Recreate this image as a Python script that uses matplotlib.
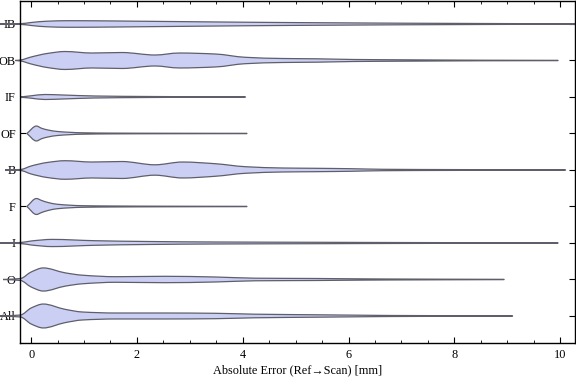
import numpy as np
import matplotlib
matplotlib.use("Agg")
import matplotlib.pyplot as plt
from matplotlib.path import Path
from matplotlib.patches import PathPatch

plt.rcParams['font.family'] = ['Liberation Serif', 'DejaVu Serif']

# categories, bottom to top
categories = ["All", "O", "I", "F", "B", "OF", "IF", "OB", "IB"]

# violin profiles: error value (mm) and relative half-width of the density
x_all = [-0.59, -0.2, 0.0, 0.23, 0.64, 0.97, 1.6, 2.53, 3.48, 4.23, 5.4, 6.2, 6.85, 9.1]
w_all = [0, 1.0, 8, 12, 6.7, 4, 3, 3, 2.7, 1.8, 1.2, 0.8, 0.5, 0.15]

x_o = [-0.53, -0.2, 0.0, 0.23, 0.64, 0.97, 1.6, 2.53, 3.48, 4.23, 5.4, 5.84, 6.7, 8.94]
w_o = [0, 1.0, 7.5, 11.6, 6.7, 4.3, 2.8, 3.2, 2.5, 1.3, 1.0, 0.8, 0.5, 0.15]

x_i = [-0.59, -0.2, 0.0, 0.4, 1.2, 2.2, 3.48, 5.4, 7.0, 8.5, 9.96]
w_i = [0, 0.5, 2.0, 3.6, 2.3, 1.5, 1.0, 0.7, 0.45, 0.3, 0.15]

x_f = [-0.08, 0.1, 0.2, 0.32, 0.5, 0.97, 1.5, 2.5, 4.08]
w_f = [0, 8, 6, 4, 2.2, 0.8, 0.5, 0.3, 0.15]

x_b = [-0.49, -0.2, 0.0, 0.3, 0.64, 1.15, 1.72, 2.34, 2.86, 3.48, 4.05, 4.75, 5.37, 6.03, 6.65, 8.0, 10.1]
w_b = [0, 0.5, 4, 7.5, 9.3, 8, 8.5, 5.2, 8, 6.3, 3.3, 2.0, 1.7, 1.3, 0.7, 0.4, 0.15]

x_of = [-0.08, 0.1, 0.2, 0.32, 0.5, 0.97, 1.5, 2.5, 4.08]
w_of = [0, 7.5, 5.2, 3.5, 2.0, 0.7, 0.4, 0.25, 0.15]

x_if = [-0.2, 0.0, 0.26, 0.6, 1.2, 2.2, 3.0, 4.05]
w_if = [0, 1.2, 2.5, 2.0, 1.0, 0.5, 0.3, 0.15]

x_ob = [-0.3, -0.2, 0.0, 0.3, 0.64, 1.15, 1.72, 2.34, 2.8, 3.48, 4.05, 4.75, 5.4, 6.1, 7.0, 7.7, 8.5, 9.96]
w_ob = [0, 0.5, 3.5, 7, 9, 7.5, 8, 5.5, 7.5, 6.5, 3.2, 2, 1.7, 1.0, 0.7, 0.5, 0.3, 0.15]

x_ib = [-0.59, -0.2, 0.0, 0.3, 0.7, 1.2, 2.0, 3.0, 4.0, 5.0, 6.0, 7.0, 8.0, 9.0, 10.4]
w_ib = [0, 0.3, 1.5, 2.8, 3.3, 3.2, 2.8, 2.3, 1.8, 1.4, 1.1, 0.8, 0.6, 0.4, 0.2]

profiles = [(x_all, w_all), (x_o, w_o), (x_i, w_i), (x_f, w_f), (x_b, w_b),
            (x_of, w_of), (x_if, w_if), (x_ob, w_ob), (x_ib, w_ib)]

WIDTH_SCALE = 1 / 36.6
FILL = "#cbcff3"
EDGE = "#5f5f6b"


def pchip_slopes(x, y):
    x = np.asarray(x, float); y = np.asarray(y, float)
    h = np.diff(x); d = np.diff(y) / h
    m = np.zeros_like(y)
    for i in range(1, len(x) - 1):
        if d[i - 1] * d[i] <= 0:
            m[i] = 0
        else:
            w1 = 2 * h[i] + h[i - 1]; w2 = h[i] + 2 * h[i - 1]
            m[i] = (w1 + w2) / (w1 / d[i - 1] + w2 / d[i])
    m[0] = d[0]; m[-1] = d[-1]
    return m


def edge_segments(x, y, m):
    verts = []
    for i in range(len(x) - 1):
        h = x[i + 1] - x[i]
        verts.append((x[i] + h / 3, y[i] + m[i] * h / 3))
        verts.append((x[i + 1] - h / 3, y[i + 1] - m[i + 1] * h / 3))
        verts.append((x[i + 1], y[i + 1]))
    return verts


fig = plt.figure(figsize=(5.76, 3.81), dpi=100)
ax = fig.add_axes([20 / 576, 1 - 343 / 381, 555 / 576, 342 / 381])

for k, (xs, ws) in enumerate(profiles):
    pos = k + 1
    xs = np.asarray(xs, float)
    ws = np.asarray(ws, float) * WIDTH_SCALE
    m = pchip_slopes(xs, ws)
    top = edge_segments(xs, pos + ws, m)
    # bottom edge right to left (slope of the lower edge is -m)
    xr = xs[::-1]; wr = ws[::-1]; mr = m[::-1]
    bot = edge_segments(xr, pos - wr, -mr)
    verts = [(xs[0], pos + ws[0])] + top + [(xr[0], pos - wr[0])] + bot + [(xs[0], pos)]
    codes = [Path.MOVETO] + [Path.CURVE4] * len(top) + [Path.LINETO] + \
            [Path.CURVE4] * len(bot) + [Path.CLOSEPOLY]
    patch = PathPatch(Path(verts, codes), facecolor=FILL, edgecolor=EDGE,
                      lw=0.9, clip_on=False, zorder=2)
    ax.add_patch(patch)

ax.set_xlim(-0.21, 10.28)
ax.set_ylim(0.26, 9.63)

ax.set_yticks(range(1, len(categories) + 1))
ax.set_yticklabels(categories)
ax.set_xticks([0, 2, 4, 6, 8, 10])
ax.set_xticks(np.arange(0, 10.01, 0.5), minor=True)

ax.tick_params(axis='both', which='both', direction='in', top=True, right=True,
               labelsize=8.8, colors='black')
ax.tick_params(axis='x', which='major', length=4, width=0.8, pad=4)
ax.tick_params(axis='x', which='minor', length=2.2, width=0.6)
ax.tick_params(axis='y', which='major', length=4, width=0.8, pad=3)
ax.tick_params(axis='y', which='minor', left=False, right=False)

for s in ax.spines.values():
    s.set_linewidth(1.0)
    s.set_color('black')

ax.set_xlabel("Absolute Error (Ref\u2192Scan) [mm]", fontsize=8.8, labelpad=3)

fig.savefig("out.png", dpi=100)
